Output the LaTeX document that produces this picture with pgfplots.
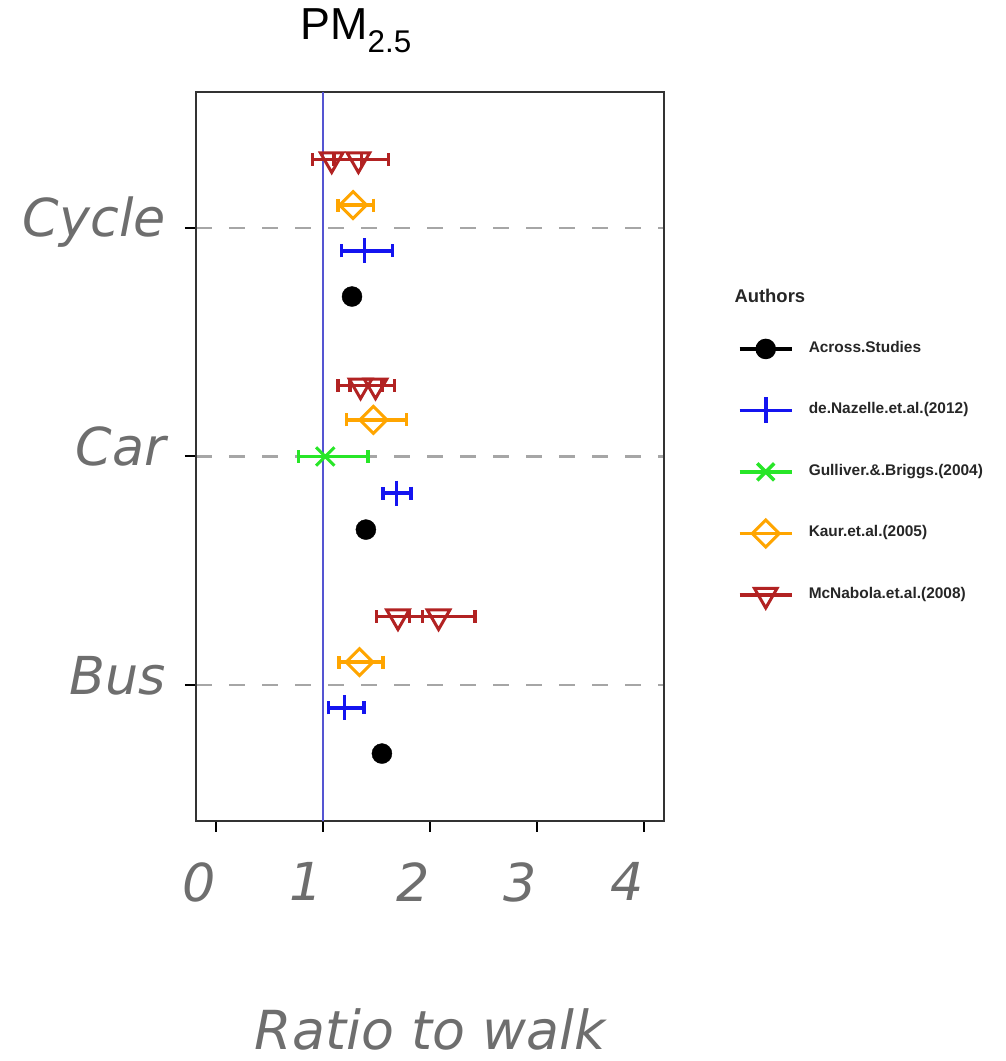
\documentclass[border=0pt]{standalone}
\usepackage{pgfplots}
\usepackage{pgfplotstable}
\pgfplotsset{compat=1.18}
\usepackage{fontspec}
\setmainfont{Liberation Sans}
\newfontfamily\djv{DejaVu Sans}
\definecolor{labgray}{RGB}{110,110,110}
\definecolor{mcn}{RGB}{178,34,34}
\definecolor{kaur}{RGB}{255,165,0}
\definecolor{gul}{RGB}{40,230,40}
\definecolor{naz}{RGB}{20,20,240}
\definecolor{vline}{RGB}{85,85,210}

\pgfplotstableread{
x y em ep
1.08 3.30 0.18 0.28
1.33 3.30 0.23 0.28
1.35 2.31 0.21 0.20
1.49 2.31 0.24 0.18
1.70 1.30 0.20 0.23
2.08 1.30 0.27 0.34
}\mcnabola
\pgfplotstableread{
x y em ep
1.28 3.10 0.14 0.19
1.47 2.16 0.25 0.31
1.34 1.10 0.19 0.22
}\kaurtab
\pgfplotstableread{
x y em ep
1.02 2.00 0.25 0.40
}\gultab
\pgfplotstableread{
x y em ep
1.39 2.90 0.22 0.26
1.69 1.84 0.13 0.13
1.20 0.90 0.15 0.18
}\naztab
\pgfplotstableread{
x y
1.27 2.70
1.40 1.68
1.55 0.70
}\acrosstab

\pgfplotsset{
  ebar/.style={error bars/.cd, x dir=both, x explicit, error mark=|,
    error bar style={line width=3.5bp, solid},
    error mark options={line width=3.5bp, mark size=6.5bp}},
}

\begin{document}
\begin{tikzpicture}[x=1bp,y=1bp]
\path[use as bounding box] (0,0) rectangle (1006,1061);
\begin{axis}[
  at={(196bp,240bp)}, anchor=south west,
  scale only axis, width=468bp, height=729bp,
  xmin=-0.19, xmax=4.19, ymin=0.405, ymax=3.595,
  xtick={0,1,2,3,4}, xticklabels={0,1,2,3,4},
  ytick={1,2,3}, yticklabels={Bus,Car,Cycle},
  tick pos=left,
  tick align=outside, major tick length=11bp,
  tick style={black, line width=2bp},
  axis line style={draw=black!80, line width=2bp},
  ymajorgrids,
  major grid style={draw=black!35, line width=2.5bp, dash pattern=on 16bp off 17bp},
  ticklabel style={font=\djv\itshape\fontsize{52.5}{58}\selectfont, text=labgray, inner sep=0pt},
  xticklabel style={anchor=north, yshift=-30bp, xshift=-17bp},
  yticklabel style={anchor=base east, xshift=-19bp, yshift=-9bp},
  xlabel={Ratio to walk},
  xlabel style={at={(axis description cs:0.5,0)}, anchor=base, yshift=-228bp, inner sep=0pt,
    font=\djv\itshape\fontsize{54}{58}\selectfont, text=labgray},
  title={PM\textsubscript{2.5}},
  title style={at={(axis description cs:0.342,1)}, anchor=base, yshift=47bp,
    font=\fontsize{45}{50}\selectfont},
  clip=false,
  legend image code/.code={
    \path[draw=none, fill=none] (0bp,-14bp) rectangle (69bp,14bp);
    \draw[mark repeat=2,mark phase=2,#1] plot coordinates {(0bp,0bp) (26bp,0bp) (52bp,0bp)};
  },
  legend cell align=left,
  legend style={draw=none, fill=none, inner sep=0pt, outer sep=0pt,
    at={(axis description cs:1.1581,0.6667)}, anchor=north west,
    row sep=33.5bp,
    font=\bfseries\fontsize{15.5}{17}\selectfont, text=black!85,
    nodes={inner xsep=0pt, inner ysep=0pt, text height=10bp, text depth=3bp}},
]
% reference line at ratio 1
\addplot[vline, line width=2bp, forget plot] coordinates {(1,0.405) (1,3.595)};

\addplot[only marks, mcn, mark=triangle, mark size=13bp, mark options={rotate=180, line width=3bp, fill=none},
  forget plot, ebar]
  table[x=x, y=y, x error minus=em, x error plus=ep] {\mcnabola};
\addplot[only marks, kaur, mark=square, mark size=9.5bp, mark options={rotate=45, line width=3bp, fill=none},
  forget plot, ebar]
  table[x=x, y=y, x error minus=em, x error plus=ep] {\kaurtab};
\addplot[only marks, gul, mark=x, mark size=13bp, mark options={line width=3bp},
  forget plot, ebar]
  table[x=x, y=y, x error minus=em, x error plus=ep] {\gultab};
\addplot[only marks, naz, mark=+, mark size=12.5bp, mark options={line width=3bp},
  forget plot, ebar]
  table[x=x, y=y, x error minus=em, x error plus=ep] {\naztab};
\addplot[only marks, black, mark=*, mark size=10bp, forget plot]
  table[x=x, y=y] {\acrosstab};

\addlegendimage{black, line width=3.5bp, mark=*, mark size=8.5bp}
\addlegendentry{Across.Studies}
\addlegendimage{naz, line width=3.5bp, mark=+, mark size=13bp}
\addlegendentry{de.Nazelle.et.al.(2012)}
\addlegendimage{gul, line width=3.5bp, mark=x, mark size=12bp}
\addlegendentry{Gulliver.\&.Briggs.(2004)}
\addlegendimage{kaur, line width=3.5bp, mark=square, mark size=9.5bp, mark options={rotate=45, fill=none, line width=3bp}}
\addlegendentry{Kaur.et.al.(2005)}
\addlegendimage{mcn, line width=3.5bp, mark=triangle, mark size=13bp, mark options={rotate=180, fill=none, line width=3bp}}
\addlegendentry{McNabola.et.al.(2008)}
\end{axis}
\node[anchor=base west, font=\bfseries\fontsize{18.5}{21}\selectfont, text=black!85] at (731,758) {Authors};
\end{tikzpicture}
\end{document}
